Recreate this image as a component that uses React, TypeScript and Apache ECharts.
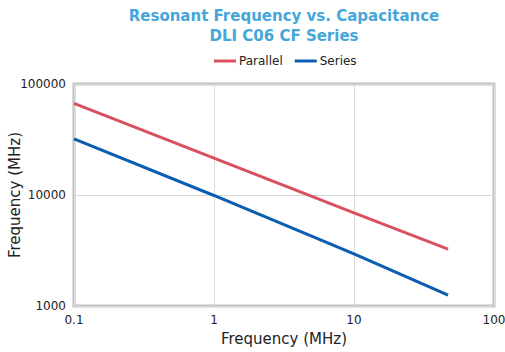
import React, { useEffect, useRef } from "react";
import * as echarts from "echarts";

const capacitance = [0.1, 1, 10, 47];
const parallelValues = [67000, 21500, 6900, 3250];
const seriesValues = [32000, 9900, 2950, 1250];
const titleLines = ["Resonant Frequency vs. Capacitance", "DLI C06 CF Series"];
const seriesNames = ["Parallel", "Series"];

export default function App() {
  const ref = useRef<HTMLDivElement>(null);
  useEffect(() => {
    const chart = echarts.init(ref.current!, null, { renderer: "svg" });
    const font = "DejaVu Sans";
    chart.setOption({
      animation: false,
      textStyle: { fontFamily: font },
      title: {
        text: titleLines.join("\n"),
        left: 279,
        textAlign: "center",
        top: 1,
        textStyle: { color: "#45a6da", fontSize: 15, fontWeight: "bold", lineHeight: 20, fontFamily: font },
      },
      legend: {
        top: 50,
        left: 209,
        itemWidth: 22,
        itemHeight: 3,
        itemGap: 12,
        icon: "rect",
        textStyle: { fontSize: 12, color: "#222", fontFamily: font, padding: [0, 0, 0, -2] },
        data: seriesNames,
      },
      grid: {
        left: 74,
        right: 11,
        top: 84,
        bottom: 46,
        show: true,
        borderColor: "#c0c0c0",
        borderWidth: 3,
        outerBoundsMode: "none",
        containLabel: false,
      },
      xAxis: {
        type: "log",
        logBase: 10,
        min: 0.1,
        max: 100,
        name: "Frequency (MHz)",
        nameLocation: "middle",
        nameGap: 25,
        nameMoveOverlap: false,
        nameTextStyle: { fontSize: 15, color: "#222", fontFamily: font },
        axisLine: { show: false },
        axisTick: { show: false },
        splitLine: { show: true, lineStyle: { color: "#d9d9d9", width: 1 } },
        minorSplitLine: { show: false },
        axisLabel: {
          fontSize: 12,
          color: "#222",
          margin: 8,
          formatter: (v: number) => String(Math.round(v * 10) / 10),
        },
      },
      yAxis: {
        type: "log",
        logBase: 10,
        min: 1000,
        max: 100000,
        name: "Frequency (MHz)",
        nameLocation: "middle",
        nameGap: 52,
        nameMoveOverlap: false,
        nameTextStyle: { fontSize: 15, color: "#222", fontFamily: font },
        axisLine: { show: false },
        axisTick: { show: false },
        splitLine: { show: true, lineStyle: { color: "#d9d9d9", width: 1 } },
        axisLabel: {
          fontSize: 12,
          color: "#222",
          margin: 8,
          formatter: (v: number) => String(Math.round(v)),
        },
      },
      series: [
        {
          name: seriesNames[0],
          type: "line",
          showSymbol: false,
          symbol: "none",
          data: capacitance.map((c, i) => [c, parallelValues[i]]),
          lineStyle: { color: "#d9505f", width: 3 },
          itemStyle: { color: "#d9505f" },
        },
        {
          name: seriesNames[1],
          type: "line",
          showSymbol: false,
          symbol: "none",
          data: capacitance.map((c, i) => [c, seriesValues[i]]),
          lineStyle: { color: "#0a5db0", width: 3 },
          itemStyle: { color: "#0a5db0" },
        },
      ],
    });
    return () => chart.dispose();
  }, []);
  return (
    <div
      ref={ref}
      style={{ width: 505, height: 352, position: "fixed", left: 0, top: 0, background: "#fff" }}
    />
  );
}
